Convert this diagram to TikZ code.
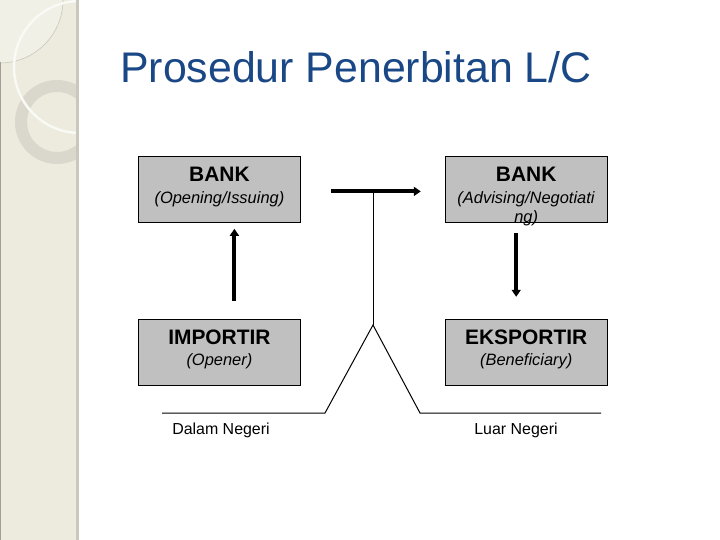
\documentclass[tikz,border=0pt]{standalone}
\usepackage{fontspec}
\setmainfont{Liberation Sans}
\usetikzlibrary{positioning,arrows.meta}
\definecolor{titleblue}{RGB}{26,72,134}
\definecolor{boxgray}{RGB}{192,192,192}
\definecolor{stripbeige}{RGB}{236,235,222}
\definecolor{stripedge}{RGB}{202,200,188}
\definecolor{ringgray}{RGB}{218,216,204}
\newcommand{\boxhead}[1]{{\fontsize{21}{24}\selectfont\bfseries #1}}

\begin{document}
\begin{tikzpicture}[x=1bp, y=-1bp,
      box/.style={draw=black, fill=boxgray, line width=0.8bp, align=center,
                  text width=162bp, inner sep=0pt, text height=25bp, text depth=41bp,
                  font=\fontsize{16.5}{16}\selectfont},
      arr/.style={-{Triangle[length=7bp,width=9bp]}, line width=4bp},
      thin/.style={line width=1bp},
      node distance=96bp and 144bp]
    \useasboundingbox (0,0) rectangle (720,540);
    % left strip
    \fill[stripbeige] (0,0) rectangle (77,540);
    \begin{scope}
      \clip (0,0) rectangle (76,540);
      \fill[stripbeige!75!white] (0,0) -- (63,0) arc[start angle=0, end angle=90, radius=63] -- cycle;
      \draw[stripedge, line width=0.6bp] (63,0) arc[start angle=0, end angle=90, radius=63];
      \draw[ringgray, line width=12bp] (57,122) circle[radius=36];
      \draw[white!70!stripbeige, line width=2.5bp] (80,67) circle[radius=66];
    \end{scope}
    \fill[stripedge] (76,0) rectangle (79,540);
    \draw[stripedge!80!black, line width=1bp] (0.5,62) -- (0.5,540);
    % title
    \node[anchor=base west, inner sep=0pt, text=titleblue,
          font=\fontsize{43}{43}\selectfont] (title) at (120,83) {Prosedur Penerbitan L/C};
    % boxes
    \node[box, anchor=north west] (issuing) at (138,156)
      {\boxhead{BANK}\\[6bp]\textit{(Opening/Issuing)}};
    \node[box, right=of issuing] (advising)
      {\boxhead{BANK}\\[6bp]\textit{(Advising/Negotiati}\\[3bp]\textit{ng)}};
    \node[box, below=of issuing] (importir)
      {\boxhead{IMPORTIR}\\[5bp]\textit{(Opener)}};
    \node[box, right=of importir] (eksportir)
      {\boxhead{EKSPORTIR}\\[5bp]\textit{(Beneficiary)}};
    % arrows
    \draw[arr] ([xshift=30bp,yshift=-2bp]issuing.east) -- ([xshift=-24bp,yshift=-2bp]advising.west);
    \draw[arr] ([xshift=15bp,yshift=18bp]importir.north) -- ([xshift=15bp,yshift=-6bp]issuing.south);
    \draw[arr] ([xshift=-10bp,yshift=-10bp]advising.south) -- ([xshift=-10bp,yshift=22bp]eksportir.north);
    % border line
    \coordinate (stem) at (373,191);
    \coordinate (fork) at (373,325);
    \coordinate (dl) at (325,413);
    \coordinate (dr) at (420,413);
    \coordinate (dlend) at (162,413);
    \coordinate (drend) at (601,413);
    \draw[thin] (stem) -- (fork);
    \draw[thin] (dlend) -- (dl) -- (fork) -- (dr) -- (drend);
    \node[font=\fontsize{16}{18}\selectfont, anchor=base] (dalam) at (221,434) {Dalam Negeri};
    \node[font=\fontsize{16}{18}\selectfont, anchor=base] (luar) at (516,434) {Luar Negeri};
  \end{tikzpicture}
\end{document}
